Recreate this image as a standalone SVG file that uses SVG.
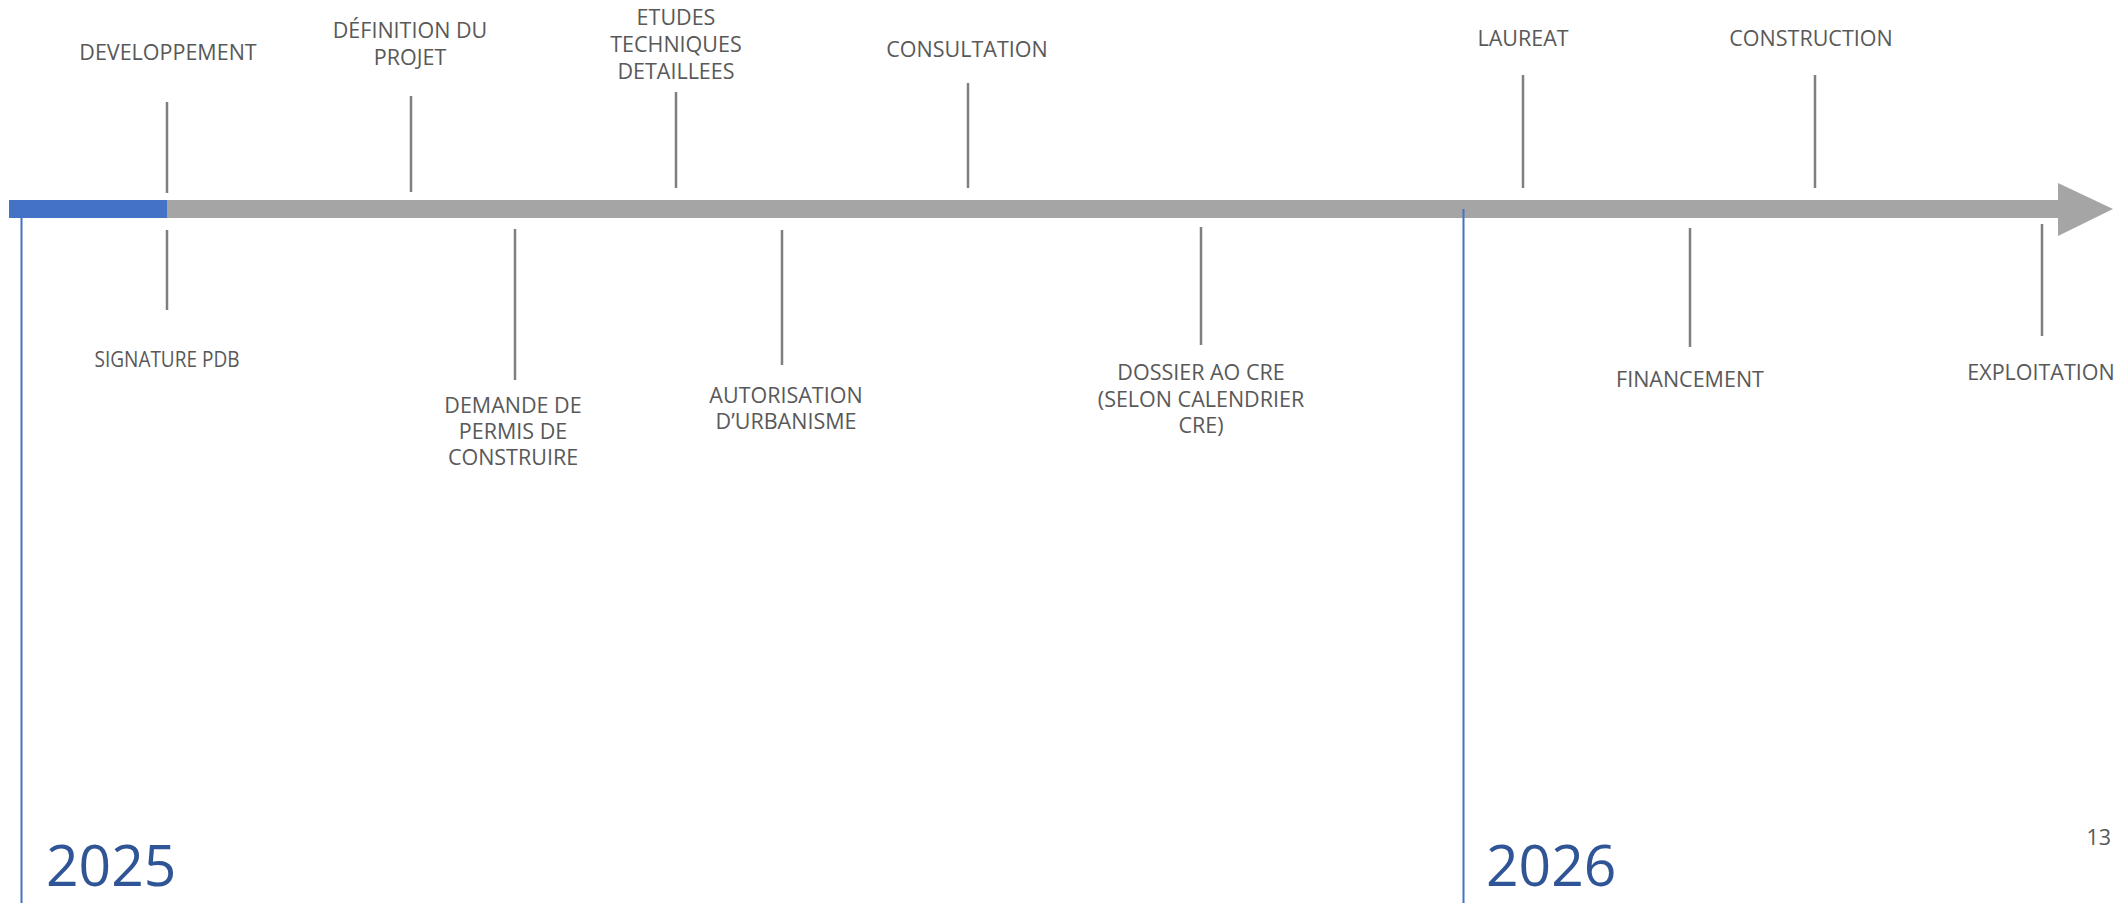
<svg xmlns="http://www.w3.org/2000/svg" width="2126" height="903" viewBox="0 0 2126 903">
<style>
.lbl{font-family:"Open Sans","Liberation Sans",sans-serif;font-size:21.5px;fill:#595959;text-anchor:middle}
.yr{font-family:"Open Sans","Liberation Sans",sans-serif;font-size:57px;fill:#2F5597}
.tick{stroke:#7F7F7F;stroke-width:2.5;fill:none}
.yline{stroke:#4472C4;stroke-width:2;fill:none}
</style>
<rect width="2126" height="903" fill="#FFFFFF"/>
<g id="timeline">
<polygon points="9,200 2058,200 2058,183 2113,209 2058,236 2058,218 9,218" fill="#A5A5A5"/>
<rect x="9" y="200" width="158" height="18" fill="#4472C4"/>
</g>
<g id="year-lines">
<line class="yline" x1="21.5" y1="218" x2="21.5" y2="903"/>
<line class="yline" x1="1463.5" y1="209" x2="1463.5" y2="903"/>
</g>
<g id="connectors">
<line class="tick" x1="167" y1="102" x2="167" y2="193"/>
<line class="tick" x1="167" y1="230" x2="167" y2="310"/>
<line class="tick" x1="411" y1="96" x2="411" y2="192"/>
<line class="tick" x1="515" y1="229" x2="515" y2="380"/>
<line class="tick" x1="676" y1="92" x2="676" y2="188"/>
<line class="tick" x1="782" y1="230" x2="782" y2="365"/>
<line class="tick" x1="968" y1="83" x2="968" y2="188"/>
<line class="tick" x1="1201" y1="227" x2="1201" y2="345"/>
<line class="tick" x1="1523" y1="75" x2="1523" y2="188"/>
<line class="tick" x1="1690" y1="228" x2="1690" y2="347"/>
<line class="tick" x1="1815" y1="75" x2="1815" y2="188"/>
<line class="tick" x1="2042" y1="224" x2="2042" y2="336"/>
</g>
<g id="developpement"><text class="lbl" x="168" y="60">DEVELOPPEMENT</text></g>
<g id="signature-pdb"><text class="lbl" x="167" y="367" textLength="145" lengthAdjust="spacingAndGlyphs">SIGNATURE PDB</text></g>
<g id="definition-projet"><text class="lbl" x="410" y="38">DÉFINITION DU</text><text class="lbl" x="410" y="65">PROJET</text></g>
<g id="demande-permis"><text class="lbl" x="513" y="413">DEMANDE DE</text><text class="lbl" x="513" y="439">PERMIS DE</text><text class="lbl" x="513" y="465">CONSTRUIRE</text></g>
<g id="etudes"><text class="lbl" x="676" y="25">ETUDES</text><text class="lbl" x="676" y="52">TECHNIQUES</text><text class="lbl" x="676" y="79">DETAILLEES</text></g>
<g id="autorisation"><text class="lbl" x="786" y="403">AUTORISATION</text><text class="lbl" x="786" y="429">D’URBANISME</text></g>
<g id="consultation"><text class="lbl" x="967" y="57">CONSULTATION</text></g>
<g id="dossier-ao"><text class="lbl" x="1201" y="380">DOSSIER AO CRE</text><text class="lbl" x="1201" y="407">(SELON CALENDRIER</text><text class="lbl" x="1201" y="433">CRE)</text></g>
<g id="laureat"><text class="lbl" x="1523" y="46">LAUREAT</text></g>
<g id="financement"><text class="lbl" x="1690" y="387">FINANCEMENT</text></g>
<g id="construction"><text class="lbl" x="1811" y="46">CONSTRUCTION</text></g>
<g id="exploitation"><text class="lbl" x="2041" y="380">EXPLOITATION</text></g>
<g id="years">
<text class="yr" x="46" y="886">2025</text>
<text class="yr" x="1486" y="886">2026</text>
</g>
<g id="page-number"><text class="lbl" x="2111" y="845" style="text-anchor:end">13</text></g>
</svg>
